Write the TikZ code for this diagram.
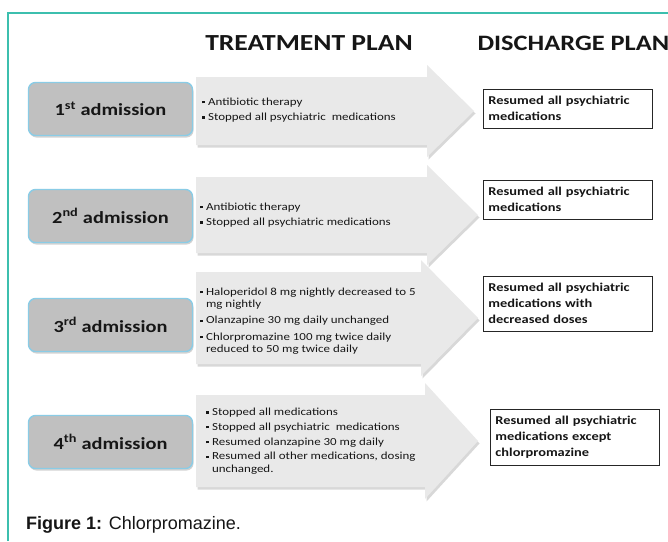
\documentclass[tikz,border=0pt]{standalone}
\usepackage{fontspec}
\setmainfont[FakeStretch=1.2]{Carlito}
\newfontfamily\capfont{Liberation Sans}
\usetikzlibrary{positioning,shadows}
\definecolor{frameline}{HTML}{3CBFAE}
\definecolor{admfill}{HTML}{C0C0C0}
\definecolor{admedge}{HTML}{8ACCE6}
\definecolor{arrowfill}{HTML}{E9E9E9}
\definecolor{ink}{HTML}{161616}
% small square bullet used in the arrow texts
\newcommand{\sq}{\rule[1.8pt]{2.4pt}{2.4pt}\hspace{3.5pt}}
\newcommand{\hang}{\hspace{5.9pt}}

\begin{document}
\begin{tikzpicture}[x=1pt,y=-1pt,text=ink,
    adm/.style={draw=admedge,line width=1.4pt,fill=admfill,rounded corners=7pt,
                minimum width=164pt,minimum height=53pt,
                font=\fontsize{17}{20}\selectfont\bfseries,
                drop shadow={shadow xshift=1pt,shadow yshift=-2pt,opacity=0.35}},
    planarrow/.style={fill=arrowfill,
                drop shadow={shadow xshift=1.5pt,shadow yshift=-2.5pt,opacity=0.3}},
    treat/.style={anchor=west,align=left,inner sep=0pt,
                font=\fontsize{10.8}{12.3}\selectfont},
    disch/.style={draw=black!85,line width=0.9pt,fill=white,anchor=north west,
                text width=159pt,align=left,inner xsep=5pt,inner ysep=7pt,
                font=\fontsize{12}{16}\selectfont\bfseries},
    head/.style={font=\fontsize{23}{26}\selectfont\bfseries}]
  \useasboundingbox (0,0) rectangle (668,541);
  \fill[white] (0,0) rectangle (668,541);
  \draw[frameline,line width=1.5pt] (8,541) -- (8,13) -- (668,13);

  % column titles
  \node[head] (tp) at (309,43) {TREATMENT PLAN};
  \node[head,anchor=west,font=\fontsize{22}{26}\selectfont\bfseries] (dp) at (474,43) {DISCHARGE PLAN};

  % big arrows: centre / half body / half head / head base / tip
  \foreach \c/\b/\h/\x/\t in {111/34/46/427/474, 215/38/50/427/478,
                              318/46/58/421/478, 441/46/58/425/478}
    \path[planarrow] (196,\c-\b) -- (\x,\c-\b) -- (\x,\c-\h) -- (\t,\c)
      -- (\x,\c+\h) -- (\x,\c+\b) -- (196,\c+\b) -- cycle;

  % admissions
  \node[adm] (a1) at (110.5,109) {1\textsuperscript{st} admission};
  \node[adm] (a2) at (110.5,216) {2\textsuperscript{nd} admission};
  \node[adm] (a3) at (110.5,325) {3\textsuperscript{rd} admission};
  \node[adm] (a4) at (110.5,442) {4\textsuperscript{th} admission};

  % treatment
  \node[treat] (t1) at (202,110) {\sq Antibiotic therapy\\[3pt]
    \sq Stopped all psychiatric\ \ medications};
  \node[treat] (t2) at (200,215) {\sq Antibiotic therapy\\[3pt]
    \sq Stopped all psychiatric medications};
  \node[treat] (t3) at (200,321) {\sq Haloperidol 8 mg nightly decreased to 5\\
    \hang mg nightly\\[4pt]
    \sq Olanzapine 30 mg daily unchanged\\[4pt]
    \sq Chlorpromazine 100 mg twice daily\\
    \hang reduced to 50 mg twice daily};
  \node[treat] (t4) at (206,441) {\sq Stopped all medications\\[2.5pt]
    \sq Stopped all psychiatric\ \ medications\\[2.5pt]
    \sq Resumed olanzapine 30 mg daily\\[2.5pt]
    \sq Resumed all other medications, dosing\\
    \hang unchanged.};

  % discharge
  \node[disch] (d1) at (483,89) {Resumed all psychiatric\\medications};
  \node[disch] (d2) at (483,180) {Resumed all psychiatric\\medications};
  \node[disch] (d3) at (483,276) {Resumed all psychiatric\\medications with\\decreased doses};
  \node[disch] (d4) at (490,409) {Resumed all psychiatric\\medications except\\chlorpromazine};

  \node[anchor=west,inner sep=0pt,font=\capfont\fontsize{18}{21}\selectfont] (cap) at (26,525)
    {\textbf{Figure 1:} Chlorpromazine.};
\end{tikzpicture}
\end{document}
